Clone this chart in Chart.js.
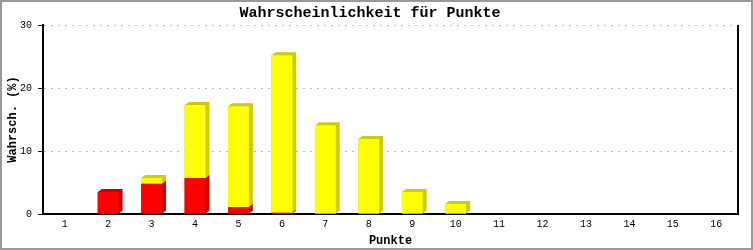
<!DOCTYPE html>
<html>
<head>
<meta charset="utf-8">
<script src="https://cdn.jsdelivr.net/npm/chart.js@4/dist/chart.umd.min.js"></script>
<style>
  html, body { margin: 0; padding: 0; background: #fff; }
  #wrap { width: 753px; height: 250px; }
</style>
</head>
<body>
<div id="wrap"><canvas id="chart" width="753" height="250"></canvas></div>
<script>
// data
var punkte = ['1', '2', '3', '4', '5', '6', '7', '8', '9', '10', '11', '12', '13', '14', '15', '16'];
var rotWerte = [0, 3.5, 4.8, 5.7, 1.1, 0.2, 0, 0, 0, 0, 0, 0, 0, 0, 0, 0];
var gelbWerte = [0, 0, 0.9, 11.6, 16.0, 25.0, 14.1, 11.9, 3.5, 1.6, 0, 0, 0, 0, 0, 0];
var yTicks = [0, 10, 20, 30];

var monoFont = '"Liberation Mono", "DejaVu Sans Mono", monospace';

// side faces of the bars (fake 3d)
var depthPlugin = {
    id: 'depth',
    beforeDatasetsDraw: function( chart ) {
        var ctx = chart.ctx;
        var dx = 4, dy = 3;
        chart.data.datasets.forEach( function( ds, i ) {
            var meta = chart.getDatasetMeta( i );
            meta.data.forEach( function( bar, j ) {
                if ( !ds.data[j] ) return;
                var p = bar.getProps( ['x', 'y', 'base', 'width'], true );
                var x0 = p.x - p.width / 2, x1 = p.x + p.width / 2;
                ctx.save();
                ctx.fillStyle = ds.sideColor;
                ctx.beginPath();
                ctx.moveTo( x0, p.y );
                ctx.lineTo( x0 + dx, p.y - dy );
                ctx.lineTo( x1 + dx, p.y - dy );
                ctx.lineTo( x1 + dx, p.base - dy );
                ctx.lineTo( x1, p.base );
                ctx.lineTo( x0, p.base );
                ctx.closePath();
                ctx.fill();
                ctx.restore();
            } );
        } );
    },
    afterDraw: function( chart ) {
        var ctx = chart.ctx, a = chart.chartArea;
        ctx.save();
        // right border of the plot
        ctx.strokeStyle = '#000';
        ctx.lineWidth = 2;
        ctx.beginPath();
        ctx.moveTo( a.right, a.top );
        ctx.lineTo( a.right, a.bottom );
        ctx.stroke();
        // outer frame
        ctx.strokeStyle = '#999';
        ctx.lineWidth = 2;
        ctx.strokeRect( 1, 1, chart.width - 2, chart.height - 2 );
        ctx.restore();
    }
};

var config = {
    type: 'bar',
    data: {
        labels: punkte,
        datasets: [
            {
                label: 'rot',
                data: rotWerte,
                backgroundColor: '#ff0000',
                sideColor: '#cc0000'
            },
            {
                label: 'gelb',
                data: gelbWerte,
                backgroundColor: '#ffff00',
                sideColor: '#cccc00'
            }
        ]
    },
    options: {
        responsive: false,
        animation: false,
        categoryPercentage: 1,
        barPercentage: 0.48,
        layout: {
            padding: { left: 2, right: 15, top: 0, bottom: 2 }
        },
        plugins: {
            legend: { display: false },
            tooltip: { enabled: false },
            title: {
                display: true,
                text: 'Wahrscheinlichkeit für Punkte',
                color: '#000',
                font: { family: monoFont, size: 15, weight: 'bold' },
                padding: { top: 4, bottom: 3 }
            }
        },
        scales: {
            x: {
                stacked: true,
                grid: { display: false, drawTicks: false },
                border: { display: true, color: '#000', width: 2 },
                ticks: {
                    color: '#000',
                    padding: 4,
                    maxRotation: 0,
                    font: { family: monoFont, size: 10 }
                },
                title: {
                    display: true,
                    text: 'Punkte',
                    color: '#000',
                    font: { family: monoFont, size: 12, weight: 'bold' },
                    padding: { top: 2, bottom: 0 }
                },
                afterFit: function( scale ) {
                    scale.height = 34;
                }
            },
            y: {
                stacked: true,
                min: 0,
                max: 30,
                afterBuildTicks: function( scale ) {
                    scale.ticks = yTicks.map( function( v ) { return { value: v }; } );
                },
                grid: {
                    color: '#bbbbbb',
                    tickColor: '#000',
                    tickLength: 5,
                    tickBorderDash: []
                },
                border: { display: true, color: '#000', width: 2, dash: [2, 5] },
                ticks: {
                    color: '#000',
                    padding: 6,
                    font: { family: monoFont, size: 10 }
                },
                title: {
                    display: true,
                    text: 'Wahrsch. (%)',
                    color: '#000',
                    font: { family: monoFont, size: 12, weight: 'bold' },
                    padding: { top: 4, bottom: 0 }
                },
                afterFit: function( scale ) {
                    scale.width = 41;
                }
            }
        }
    },
    plugins: [depthPlugin]
};

var chart = new Chart( document.getElementById( 'chart' ), config );
</script>
</body>
</html>
